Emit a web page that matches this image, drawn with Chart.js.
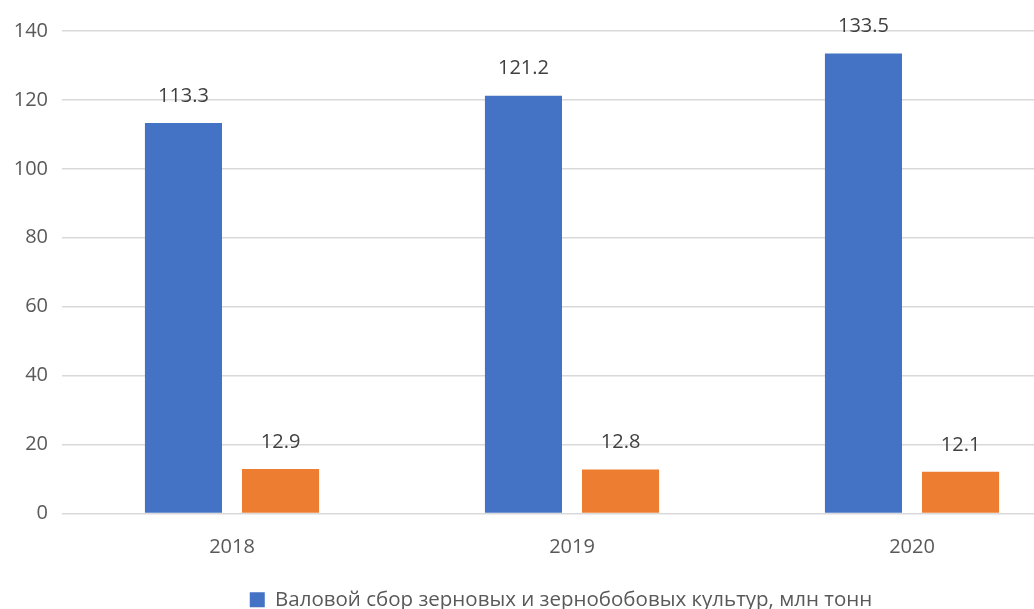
<!DOCTYPE html>
<html>
<head>
<meta charset="utf-8">
<script src="https://cdn.jsdelivr.net/npm/chart.js@4"></script>
<style>
  html, body { margin: 0; padding: 0; background: #fff; overflow: hidden; }
  #chartWrap { width: 1090px; height: 620px; }
</style>
</head>
<body>
<div id="chartWrap"><canvas id="chartHarvest" width="1090" height="620"></canvas></div>
<script>
const years = ['2018', '2019', '2020'];
const grossHarvest = [113.3, 121.2, 133.5];
const secondSeries = [12.9, 12.8, 12.1];
const seriesNames = ['Валовой сбор зерновых и зернобобовых культур, млн тонн', 'Ряд 2'];
const yTicks = [0, 20, 40, 60, 80, 100, 120, 140];

const FONT = '"Open Sans", "Liberation Sans", sans-serif';

// value labels above each bar
const barLabels = {
  id: 'barLabels',
  afterDatasetsDraw(chart) {
    const ctx = chart.ctx;
    ctx.save();
    ctx.font = '20px ' + FONT;
    ctx.fillStyle = '#404040';
    ctx.textAlign = 'center';
    ctx.textBaseline = 'middle';
    chart.data.datasets.forEach((ds, i) => {
      chart.getDatasetMeta(i).data.forEach((bar, j) => {
        ctx.fillText(ds.data[j].toFixed(1), bar.x, bar.y - 27);
      });
    });
    ctx.restore();
  },
};

// legend sits a bit right of the canvas centre
const legendShift = {
  id: 'legendShift',
  afterLayout(chart) {
    chart.legend.left += 20;
    chart.legend.right += 20;
  },
};

const dataHarvest = {
  labels: years,
  datasets: [
    {
      label: seriesNames[0],
      data: grossHarvest,
      backgroundColor: 'rgb(68, 114, 196)',
      barPercentage: 0.794,
      categoryPercentage: 0.571,
    },
    {
      label: seriesNames[1],
      data: secondSeries,
      backgroundColor: 'rgb(237, 125, 49)',
      barPercentage: 0.794,
      categoryPercentage: 0.571,
    },
  ],
};

const configHarvest = {
  type: 'bar',
  data: dataHarvest,
  plugins: [barLabels, legendShift],
  options: {
    responsive: false,
    animation: false,
    layout: { padding: { top: 31, right: 8, left: 0, bottom: 0 } },
    plugins: {
      tooltip: { enabled: false },
      legend: {
        position: 'bottom',
        labels: {
          filter: (item) => item.datasetIndex === 0,
          font: { family: FONT, size: 20.5 },
          color: '#595959',
          boxWidth: 15,
          boxHeight: 15,
          padding: 10,
        },
      },
    },
    scales: {
      x: {
        grid: { display: false, drawTicks: false },
        border: { display: false },
        ticks: { font: { family: FONT, size: 20 }, color: '#595959', padding: 22 },
        afterFit: (scale) => { scale.height = 66; },
      },
      y: {
        min: 0,
        max: 140,
        afterBuildTicks: (scale) => { scale.ticks = yTicks.map((v) => ({ value: v })); },
        grid: { color: '#d9d9d9', lineWidth: 1.5, drawTicks: false },
        border: { display: false },
        ticks: { font: { family: FONT, size: 20 }, color: '#595959', padding: 14 },
        afterFit: (scale) => { scale.width = 62; },
      },
    },
  },
};

var chartHarvest = new Chart(document.getElementById('chartHarvest'), configHarvest);
</script>
</body>
</html>
